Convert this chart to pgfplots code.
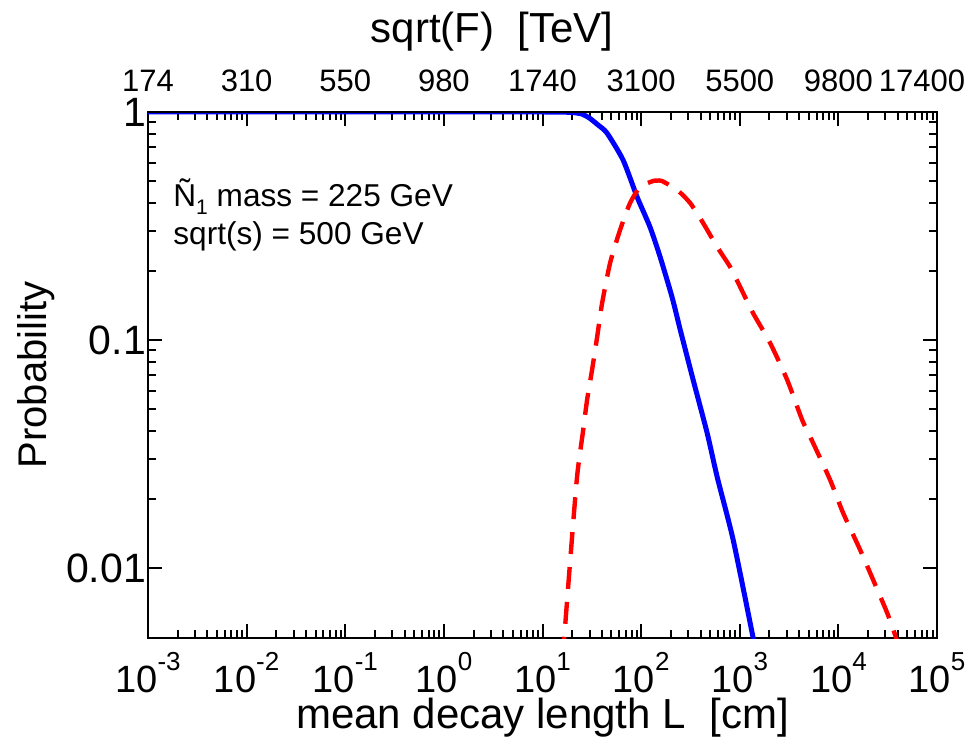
\documentclass[border=0pt]{standalone}
\usepackage{fontspec}
\setmainfont{Liberation Sans}
\usepackage{pgfplots}
\pgfplotsset{compat=1.18}

% 10^n in text font, superscript raised like the original
\newcommand{\tp}[1]{10\raisebox{11pt}{\fontsize{13}{13}\selectfont #1}}

\begin{document}
\begin{tikzpicture}
\begin{axis}[
  name=main,
  width=394.5pt, height=263pt, scale only axis,
  xmode=log, ymode=log,
  xmin=1e-3, xmax=1e5,
  ymin=0.00493, ymax=1,
  xtick={1e-3,1e-2,1e-1,1,1e1,1e2,1e3,1e4,1e5},
  xticklabels={\tp{-3},\tp{-2},\tp{-1},\tp{0},\tp{1},\tp{2},\tp{3},\tp{4},\tp{5}},
  ytick={0.01,0.1,1},
  yticklabels={0.01,0.1,1},
  xticklabel style={anchor=base, inner sep=0pt, yshift=-27pt, font=\fontsize{19}{19}\selectfont},
  yticklabel style={anchor=east, inner sep=0pt, xshift=-0.8pt, font=\fontsize{20.5}{20.5}\selectfont},
  major tick length=7pt, minor tick length=4pt,
  every tick/.style={black, line width=1pt},
  axis line style={line width=1pt},
]
\addplot[blue, line width=2.5pt, smooth, tension=0.4] coordinates {
  (0.001,1) (1,1) (10,1) (15,0.999) (20,0.995) (25,0.98) (30,0.94)
  (36.6,0.877) (45,0.809) (65.6,0.616) (91,0.424) (123,0.313) (156,0.231)
  (206,0.154) (249,0.111) (337,0.0668) (467,0.0391) (590,0.0251)
  (857,0.0133) (1336,0.00519) (1420,0.0045)
};
\addplot[red, line width=2.2pt, dash pattern=on 11pt off 6.5pt, smooth, tension=0.4] coordinates {
  (16,0.0040) (16.6,0.00493) (19.1,0.0108) (22.4,0.0251) (25.8,0.040)
  (28.3,0.0545) (31.8,0.0739) (35.8,0.103) (40.2,0.145) (48.5,0.218)
  (61.2,0.304) (77.3,0.399) (97.7,0.469) (132,0.498) (145,0.50) (163,0.498)
  (232,0.455) (314,0.399) (425,0.326) (590,0.256) (800,0.209) (1009,0.171)
  (1367,0.131) (2033,0.097) (3027,0.0668) (4295,0.0446) (5549,0.0353)
  (8260,0.0243) (11190,0.0174) (16630,0.0120) (22530,0.00886)
  (31260,0.00635) (38550,0.00493) (40000,0.0046)
};
\end{axis}

% top axis: sqrt(F) labels at each decade
\begin{axis}[
  at={(main.south west)}, anchor=south west,
  width=394.5pt, height=263pt, scale only axis,
  xmode=log, xmin=1e-3, xmax=1e5, ymin=0, ymax=1,
  axis x line*=top, axis y line=none,
  xtick={1e-3,1e-2,1e-1,1,1e1,1e2,1e3,1e4,1e5},
  xticklabels={174,310,550,980,1740,3100,5500,9800,\hspace*{-15pt}17400},
  xticklabel style={anchor=base, inner sep=0pt, yshift=10pt, font=\fontsize{15.5}{15.5}\selectfont},
  major tick length=0pt, xminorticks=false,
  axis line style={line width=1pt},
]
\end{axis}

\node[anchor=base, inner sep=0pt, font=\fontsize{21}{21}\selectfont]
  at ([xshift=172pt, yshift=34.5pt]main.north west) {sqrt(F)~~[TeV]};
\node[anchor=base, inner sep=0pt, rotate=90, font=\fontsize{20}{20}\selectfont]
  at ([xshift=-50.5pt]main.west) {Probability};
\node[anchor=base, inner sep=0pt, font=\fontsize{21}{21}\selectfont]
  at ([yshift=-45pt]main.south) {mean decay length L~~[cm]};
\node[anchor=base west, inner sep=0pt, font=\fontsize{15.8}{15.8}\selectfont]
  at ([xshift=12.5pt, yshift=-47.5pt]main.north west)
  {Ñ\raisebox{-4pt}{\fontsize{10.5}{10.5}\selectfont 1} mass = 225 GeV};
\node[anchor=base west, inner sep=0pt, font=\fontsize{15.8}{15.8}\selectfont]
  at ([xshift=12.5pt, yshift=-66.5pt]main.north west) {sqrt(s) = 500 GeV};

% page size matching the original margins
\path ([xshift=-74pt, yshift=-50.5pt]main.south west) rectangle ([xshift=412pt, yshift=319pt]main.south west);
\end{tikzpicture}
\end{document}
